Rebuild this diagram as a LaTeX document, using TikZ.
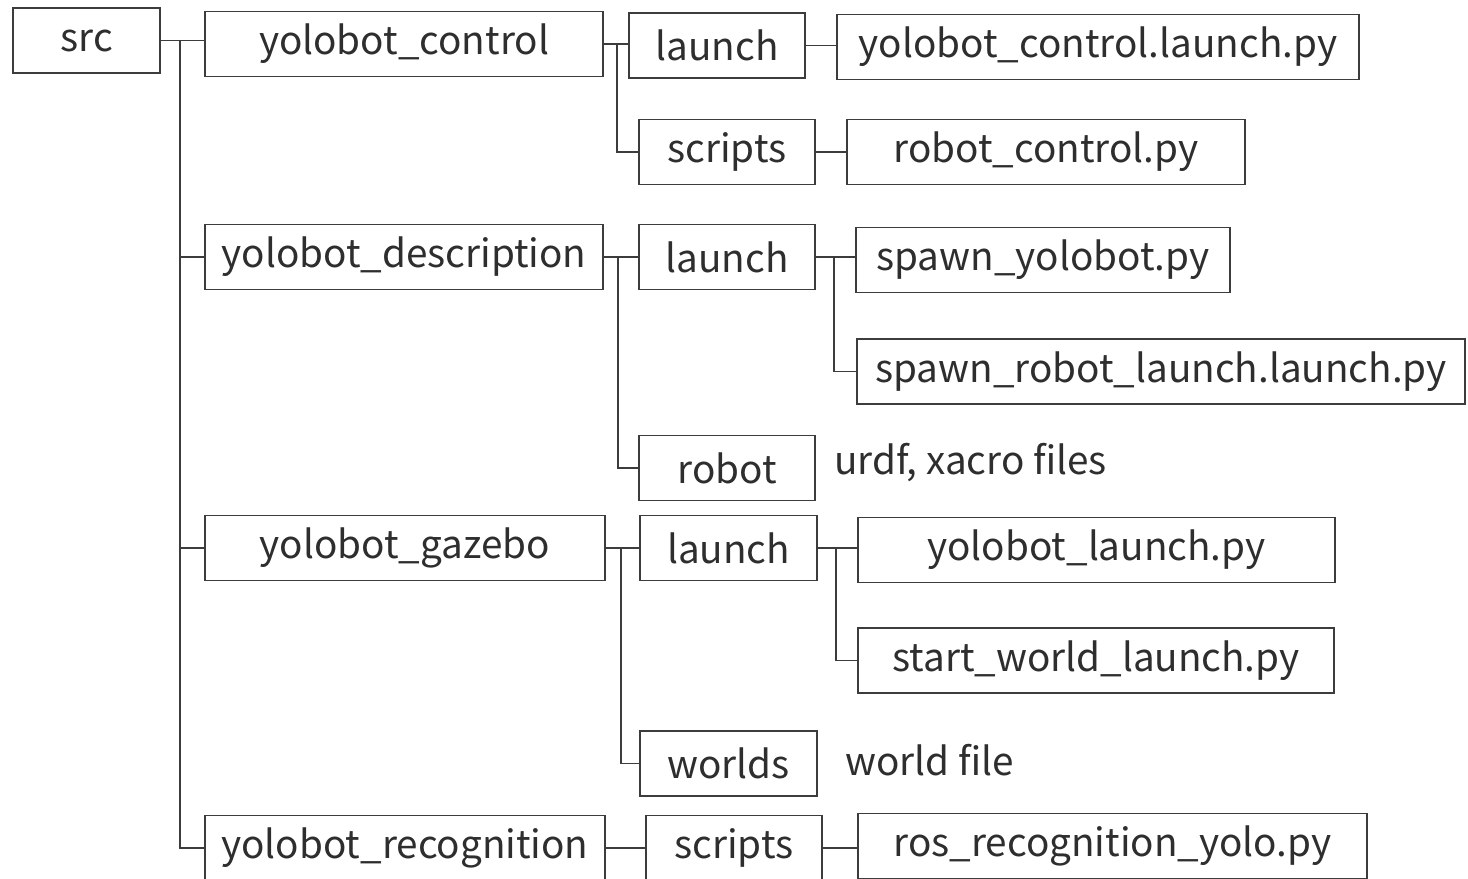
\documentclass[tikz,border=0pt]{standalone}
\usepackage{fontspec}
\setmainfont{Noto Sans CJK JP}
\definecolor{linegray}{HTML}{3C3C3C}
\definecolor{textgray}{HTML}{2E2E2E}
\tikzset{
  dirbox/.style={draw=linegray, line width=1.1pt, text=textgray,
    minimum width=#1, minimum height=1.3cm, inner sep=0pt,
    font=\fontsize{22}{26}\selectfont},
  branch/.style={draw=linegray, line width=1.1pt},
  note/.style={text=textgray, anchor=west, inner sep=0pt,
    font=\fontsize{22}{26}\selectfont}
}

\begin{document}
\begin{tikzpicture}[x=0.02cm, y=-0.02cm]
\useasboundingbox (0,0) rectangle (1468,879);

% root and packages
\node[dirbox=2.94cm] (src)  at (86.5,40.5) {src};
\node[dirbox=7.96cm] (ctrl) at (404,44)    {yolobot\_control};
\node[dirbox=7.96cm] (desc) at (404,257)   {yolobot\_description};
\node[dirbox=8cm]    (gaz)  at (405,548)   {yolobot\_gazebo};
\node[dirbox=8cm]    (rec)  at (405,848)   {yolobot\_recognition};

% sub folders
\node[dirbox=3.52cm] (ctrlL) at (717,45.5)  {launch};
\node[dirbox=3.52cm] (ctrlS) at (727,152)   {scripts};
\node[dirbox=3.52cm] (descL) at (727,257)   {launch};
\node[dirbox=3.52cm] (descR) at (727,468)   {robot};
\node[dirbox=3.54cm] (gazL)  at (728.5,548) {launch};
\node[dirbox=3.54cm] (gazW)  at (728.5,763.5) {worlds};
\node[dirbox=3.52cm] (recS)  at (734,848)   {scripts};

% files
\node[dirbox=10.44cm] (ctrlLf) at (1098,47)    {yolobot\_control.launch.py};
\node[dirbox=7.96cm]  (ctrlSf) at (1046,152)   {robot\_control.py};
\node[dirbox=7.48cm]  (spawnA) at (1043,260)   {spawn\_yolobot.py};
\node[dirbox=12.18cm] (spawnB) at (1161,371.5) {spawn\_robot\_launch.launch.py};
\node[dirbox=9.54cm]  (gazLa)  at (1096.5,550) {yolobot\_launch.py};
\node[dirbox=9.52cm]  (gazLb)  at (1096,660.5) {start\_world\_launch.py};
\node[dirbox=10.18cm] (recSf)  at (1112.5,846) {ros\_recognition\_yolo.py};

\node[note] (robotnote) at (834,463) {urdf, xacro files};
\node[note] (worldnote) at (845,760) {world file};

% src tree
\draw[branch] (src.east) -- (src.east -| ctrl.west);
\draw[branch] (src.east) -- ++(19,0) coordinate (t0) |- (rec.west);
\foreach \p in {desc,gaz}
  \draw[branch] (t0 |- \p.west) -- (\p.west);

% package trees
\draw[branch] (ctrl.east) -- ++(13,0) coordinate (t1) |- (ctrlS.west);
\draw[branch] (t1) -- (t1 -| ctrlL.west);
\draw[branch] (desc.east) -- ++(14,0) coordinate (t2) |- (descR.west);
\draw[branch] (t2) -- (descL.west);
\draw[branch] (gaz.east) -- ++(15,0) coordinate (t3) |- (gazW.west);
\draw[branch] (t3) -- (gazL.west);
\draw[branch] (rec.east) -- (recS.west);

% folder trees
\draw[branch] (ctrlL.east) -- (ctrlL.east -| ctrlLf.west);
\draw[branch] (ctrlS.east) -- (ctrlSf.west);
\draw[branch] (descL.east) -- ++(18,0) coordinate (t4) |- (spawnB.west);
\draw[branch] (t4) -- (t4 -| spawnA.west);
\draw[branch] (gazL.east) -- ++(18,0) coordinate (t5) |- (gazLb.west);
\draw[branch] (t5) -- (t5 -| gazLa.west);
\draw[branch] (recS.east) -- (recS.east -| recSf.west);
\end{tikzpicture}
\end{document}
